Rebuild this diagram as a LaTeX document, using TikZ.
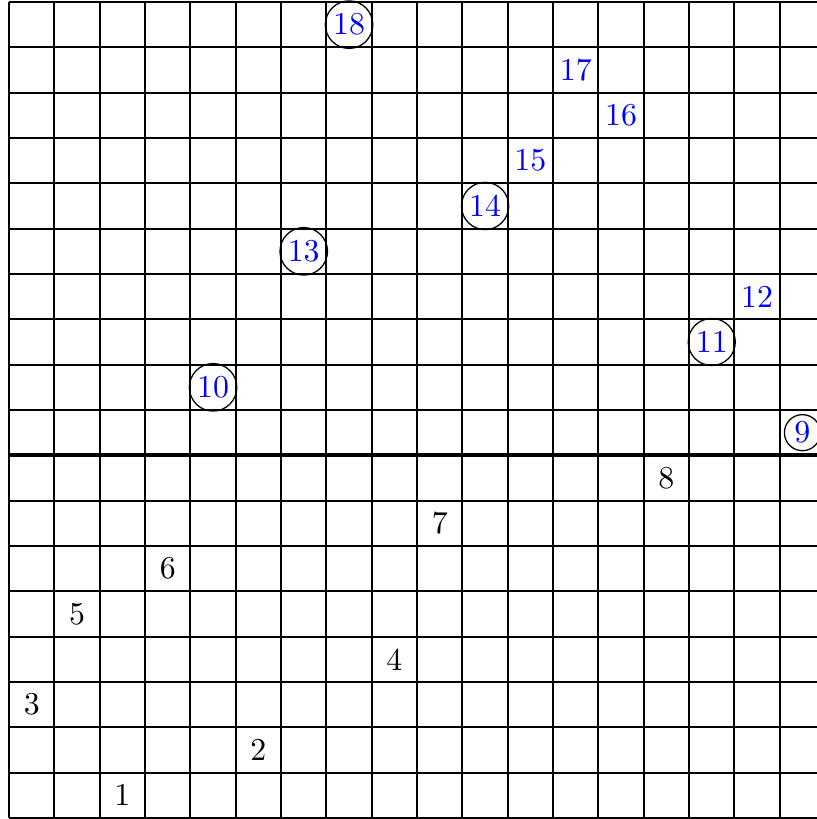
\documentclass[tikz,border=0pt]{standalone}
\begin{document}
\begin{tikzpicture}[x=0.5cm,y=0.5cm,
  gridline/.style={line width=0.6pt,black},
  midline/.style={line width=1.3pt,black},
  plain/.style={inner sep=0pt},
  bluenum/.style={text=blue,inner sep=0pt},
  ringnum/.style={circle,draw=black,line width=0.4pt,text=blue,inner sep=1pt}]
\useasboundingbox (-0.2,-0.022) rectangle (17.82,18.044);
\foreach \i in {0,...,18} {
  \draw[gridline] (\i,0) -- (\i,18);
  \draw[gridline] (0,\i) -- (18,\i);
}
\draw[midline] (0,8) -- (18,8);
\node[plain] (n1) at (2.5,0.5) {1};
\node[plain] (n2) at (5.5,1.5) {2};
\node[plain] (n3) at (0.5,2.5) {3};
\node[plain] (n4) at (8.5,3.5) {4};
\node[plain] (n5) at (1.5,4.5) {5};
\node[plain] (n6) at (3.5,5.5) {6};
\node[plain] (n7) at (9.5,6.5) {7};
\node[plain] (n8) at (14.5,7.5) {8};
\node[ringnum] (n9) at (17.5,8.5) {9};
\node[ringnum] (n10) at (4.5,9.5) {10};
\node[ringnum] (n11) at (15.5,10.5) {11};
\node[bluenum] (n12) at (16.5,11.5) {12};
\node[ringnum] (n13) at (6.5,12.5) {13};
\node[ringnum] (n14) at (10.5,13.5) {14};
\node[bluenum] (n15) at (11.5,14.5) {15};
\node[bluenum] (n16) at (13.5,15.5) {16};
\node[bluenum] (n17) at (12.5,16.5) {17};
\node[ringnum] (n18) at (7.5,17.5) {18};
\end{tikzpicture}
\end{document}
